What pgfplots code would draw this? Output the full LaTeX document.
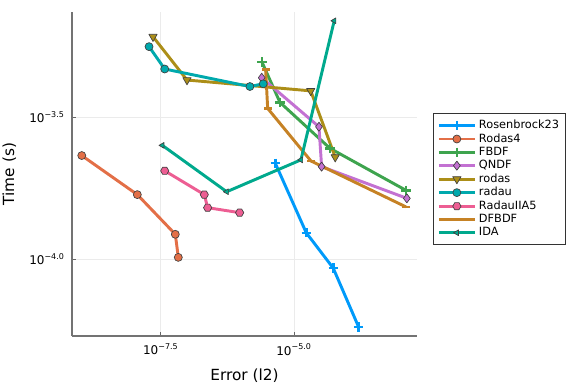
\documentclass[border=0pt]{standalone}
\usepackage{fontspec}
\setmainfont{DejaVu Sans}
\usepackage{pgfplots}
\pgfplotsset{compat=1.18}
\definecolor{c1}{RGB}{0,154,250}
\definecolor{c2}{RGB}{227,111,71}
\definecolor{c3}{RGB}{62,164,78}
\definecolor{c4}{RGB}{195,113,210}
\definecolor{c5}{RGB}{172,142,24}
\definecolor{c6}{RGB}{0,169,173}
\definecolor{c7}{RGB}{237,94,147}
\definecolor{c8}{RGB}{198,130,37}
\definecolor{c9}{RGB}{0,169,141}
\pgfdeclareplotmark{hexagon*}{%
  \pgfpathmoveto{\pgfqpointpolar{0}{\pgfplotmarksize}}%
  \pgfpathlineto{\pgfqpointpolar{60}{\pgfplotmarksize}}%
  \pgfpathlineto{\pgfqpointpolar{120}{\pgfplotmarksize}}%
  \pgfpathlineto{\pgfqpointpolar{180}{\pgfplotmarksize}}%
  \pgfpathlineto{\pgfqpointpolar{240}{\pgfplotmarksize}}%
  \pgfpathlineto{\pgfqpointpolar{300}{\pgfplotmarksize}}%
  \pgfpathclose\pgfusepathqfillstroke}
\begin{document}
\begin{tikzpicture}
\path[use as bounding box] (-54pt,-36pt) rectangle (378pt,252pt);
\begin{axis}[
  at={(0pt,0pt)}, anchor=south west,
  scale only axis, width=258.75pt, height=243pt,
  xmode=log, ymode=log,
  xmin=6.85e-10, xmax=2.03e-3, ymin=5.37e-5, ymax=7.43e-4,
  axis lines*=left,
  axis line style={black!55, line width=0.8pt},
  xtick={3.1623e-8,1e-5}, xticklabels={10\textsuperscript{−7.5},10\textsuperscript{−5.0}},
  ytick={1e-4,3.1623e-4}, yticklabels={10\textsuperscript{−4.0},10\textsuperscript{−3.5}},
  minor tick num=0, minor xtick={}, minor ytick={},
  tick align=inside, major tick length=3pt,
  tick style={black!60, line width=0.6pt},
  grid=major, grid style={black!8, line width=0.5pt},
  ticklabel style={font=\fontsize{9}{10}\selectfont},
  xticklabel style={yshift=-2.5pt},
  yticklabel style={xshift=-2pt},
  xlabel={Error (l2)}, ylabel={Time (s)},
  label style={font=\fontsize{11.5}{14}\selectfont},
  xlabel style={yshift=-3pt},
  ylabel style={yshift=3pt},
  legend style={at={(rel axis cs:1.0464,0.688)}, anchor=north west,
    font=\fontsize{8.5}{10}\selectfont, draw=black!80, line width=0.6pt,
    row sep=-1.8pt, inner xsep=3pt, inner ysep=3pt},
  legend cell align=left,
  legend image code/.code={\draw[mark repeat=2,mark phase=2,#1] plot coordinates {(0pt,0pt) (13.5pt,0pt) (27pt,0pt)};},
  every axis plot/.append style={line width=2.2pt, line join=round},
]
\addplot[c1, mark=+, mark size=3.5pt, mark options={line width=1.9pt, solid}]
  coordinates {(4.46e-6,2.18e-4) (1.70e-5,1.24e-4) (5.45e-5,9.31e-5) (1.63e-4,5.78e-5)};
\addlegendentry{Rosenbrock23}
\addplot[c2, mark=*, mark size=3pt, mark options={fill=c2, draw=black!75, line width=0.5pt}]
  coordinates {(1.045e-9,2.32e-4) (1.151e-8,1.69e-4) (5.94e-8,1.225e-4) (6.76e-8,1.016e-4)};
\addlegendentry{Rodas4}
\addplot[c3, mark=+, mark size=3.5pt, mark options={line width=1.9pt, solid}]
  coordinates {(2.51e-6,4.95e-4) (5.46e-6,3.57e-4) (4.73e-5,2.46e-4) (1.26e-3,1.75e-4)};
\addlegendentry{FBDF}
\addplot[c4, mark=diamond*, mark size=3.4pt, mark options={fill=c4, draw=black!75, line width=0.5pt}]
  coordinates {(2.48e-6,4.36e-4) (2.94e-5,2.93e-4) (3.30e-5,2.12e-4) (1.31e-3,1.64e-4)};
\addlegendentry{QNDF}
\addplot[c5, mark=triangle*, mark size=3.6pt, mark options={rotate=180, fill=c5, draw=black!75, line width=0.5pt}]
  coordinates {(2.27e-8,6.08e-4) (9.84e-8,4.28e-4) (2.06e-5,3.92e-4) (5.94e-5,2.29e-4)};
\addlegendentry{rodas}
\addplot[c6, mark=*, mark size=3pt, mark options={fill=c6, draw=black!75, line width=0.5pt}]
  coordinates {(1.91e-8,5.61e-4) (3.76e-8,4.68e-4) (1.49e-6,4.06e-4) (2.65e-6,4.15e-4)};
\addlegendentry{radau}
\addplot[c7, mark=hexagon*, mark size=3.1pt, mark options={fill=c7, draw=black!75, line width=0.5pt}]
  coordinates {(3.76e-8,2.05e-4) (2.08e-7,1.69e-4) (2.40e-7,1.52e-4) (9.57e-7,1.46e-4)};
\addlegendentry{RadauIIA5}
\addplot[c8, mark=-, mark size=3pt, mark options={line width=2pt, solid}]
  coordinates {(2.94e-6,4.67e-4) (3.21e-6,3.40e-4) (2.08e-5,2.22e-4) (1.26e-3,1.53e-4)};
\addlegendentry{DFBDF}
\addplot[c9, mark=triangle*, mark size=2.5pt, mark options={rotate=90, fill=c9, draw=black!75, line width=0.5pt}]
  coordinates {(3.39e-8,2.52e-4) (5.47e-7,1.73e-4) (1.35e-5,2.24e-4) (5.69e-5,6.92e-4)};
\addlegendentry{IDA}
\end{axis}
\end{tikzpicture}
\end{document}
